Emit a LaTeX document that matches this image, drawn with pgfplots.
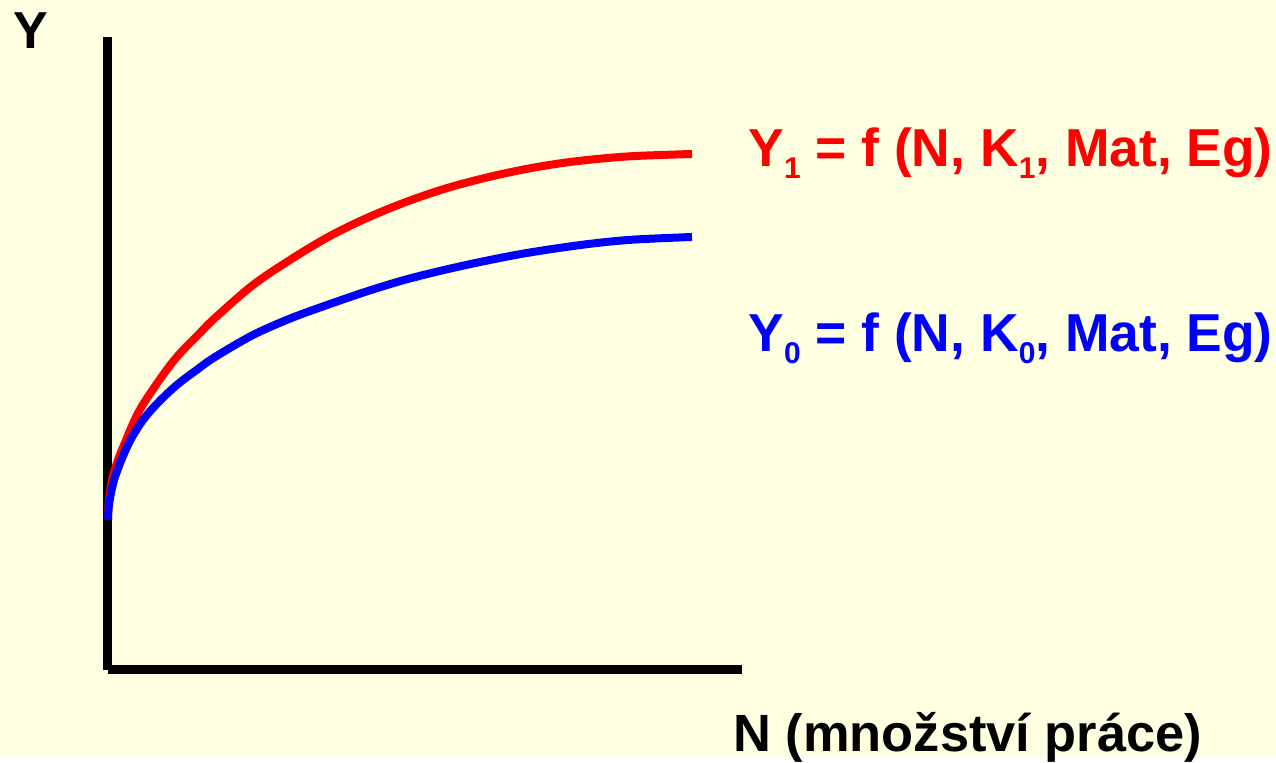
\documentclass[border=0pt]{standalone}
\usepackage{pgfplots}
\pgfplotsset{compat=1.18}
\usepackage{fontspec}
\setmainfont{Liberation Sans}
\usetikzlibrary{backgrounds}

\definecolor{bgyellow}{RGB}{255,255,225}
\definecolor{cred}{RGB}{255,0,0}
\definecolor{cblue}{RGB}{0,0,255}

% subscript as in the slide: small digit, dropped below the baseline
\newcommand\sub[1]{\raisebox{-6pt}{\fontsize{15}{15}\selectfont #1}}

\begin{document}
\begin{tikzpicture}
\begin{axis}[
    scale only axis,
    width=317pt,
    height=316.5pt,
    xmin=0, xmax=634,
    ymin=0, ymax=633,
    axis lines=left,
    axis line style={line width=4.5pt, -},
    xtick=\empty,
    ytick=\empty,
    clip=false,
]

% Y1 = f(N, K1, ...)
\addplot[cred, line width=4pt, smooth, tension=0.55] coordinates {
    (0, 150) (0.5, 164) (2, 178) (5, 194) (10, 210) (16, 225)
    (30.6, 258) (50, 288) (68.8, 313) (90, 335) (107, 352)
    (145, 385) (183.5, 411) (222, 434) (260, 452.5) (298, 468)
    (336, 481) (374.6, 491.5) (413, 500) (451, 506.5) (489, 511)
    (527.5, 514) (584, 516)
};

% Y0 = f(N, K0, ...)
\addplot[cblue, line width=4pt, smooth, tension=0.55] coordinates {
    (0, 150) (0.5, 161) (2, 172) (5, 186) (8, 196) (15, 214)
    (23, 231) (35, 250) (49.7, 267) (68.8, 285) (90, 301) (107, 313)
    (145, 335) (183.5, 352) (222, 366) (260, 379) (298, 390.5)
    (336, 400) (374.6, 408.5) (413, 416) (451, 422) (489, 427)
    (527.5, 430.5) (584, 433)
};

\node[anchor=base, inner sep=0pt, font=\fontsize{26}{26}\selectfont\bfseries]
    at (axis cs:-77,621) {Y};
\node[anchor=base west, inner sep=0pt, text=cred, font=\fontsize{26.7}{26.7}\selectfont\bfseries]
    at (axis cs:640,503) {Y\sub{1} = f (N, K\sub{1}, Mat, Eg)};
\node[anchor=base west, inner sep=0pt, text=cblue, font=\fontsize{26.7}{26.7}\selectfont\bfseries]
    at (axis cs:640,318) {Y\sub{0} = f (N, K\sub{0}, Mat, Eg)};
\node[anchor=base west, inner sep=0pt, font=\fontsize{26.2}{26.2}\selectfont\bfseries]
    at (axis cs:625,-82) {N (množství práce)};

\coordinate (bl) at (axis cs:-108,-88);
\coordinate (tr) at (axis cs:1168,670);
\end{axis}
\begin{scope}[on background layer]
\fill[bgyellow] (bl) rectangle (tr);
\end{scope}
\end{tikzpicture}
\end{document}
